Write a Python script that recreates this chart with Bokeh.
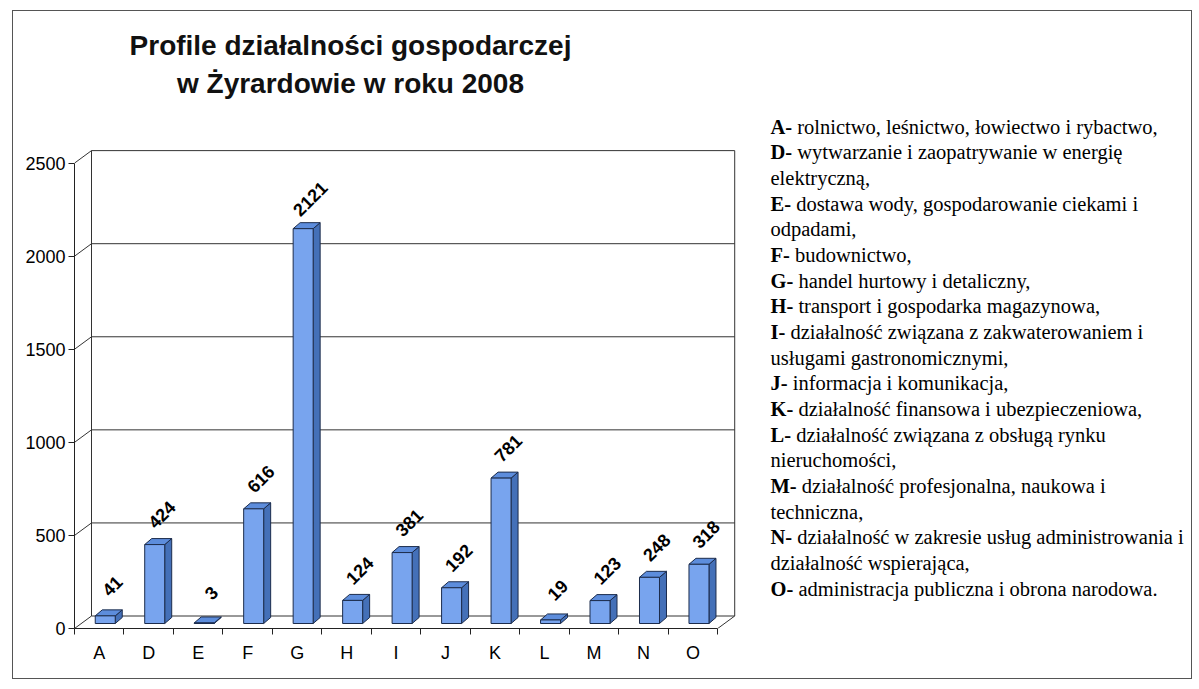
import numpy as np
from bokeh.plotting import figure
from bokeh.models import Range1d, FixedTicker, ColumnDataSource
from bokeh.core.properties import value
from bokeh.embed import file_html
from bokeh.resources import INLINE

# ---- data ----
categories = ["A", "D", "E", "F", "G", "H", "I", "J", "K", "L", "M", "N", "O"]
counts = [41, 424, 3, 616, 2121, 124, 381, 192, 781, 19, 123, 248, 318]
y_ticks = [0, 500, 1000, 1500, 2000, 2500]
title_lines = ["Profile działalności gospodarczej", "w Żyrardowie w roku 2008"]
legend_keys = ["A", "D", "", "E", "", "F", "G", "H", "I", "", "J", "K", "L", "",
               "M", "", "N", "", "O"]
legend_texts = [
    "rolnictwo, leśnictwo, łowiectwo i rybactwo,",
    "wytwarzanie i zaopatrywanie w energię",
    "elektryczną,",
    "dostawa wody, gospodarowanie ciekami i",
    "odpadami,",
    "budownictwo,",
    "handel hurtowy i detaliczny,",
    "transport i gospodarka magazynowa,",
    "działalność związana z zakwaterowaniem i",
    "usługami gastronomicznymi,",
    "informacja i komunikacja,",
    "działalność finansowa i ubezpieczeniowa,",
    "działalność związana z obsługą rynku",
    "nieruchomości,",
    "działalność profesjonalna, naukowa i",
    "techniczna,",
    "działalność w zakresie usług administrowania i",
    "działalność wspierająca,",
    "administracja publiczna i obrona narodowa.",
]

# ---- layout geometry ----
W, H = 1180, 669                # canvas size; canvas origin at page (13, 11)
FRAME_L, FRAME_B = 61, 52
PAGE_X0, PAGE_Y0 = 13, 11
xs = 663 / 13.4                 # px per category unit
ys = 484 / 2600                 # px per value unit
X_END = (W - FRAME_L) / xs
Y_END = (H - FRAME_B) / ys
ORIG_X = PAGE_X0 + FRAME_L      # page x of axis origin
ORIG_Y = PAGE_Y0 + H - FRAME_B  # page y of axis origin


def xd(page_x):
    return (page_x - ORIG_X) / xs


def yd(page_y):
    return (ORIG_Y - page_y) / ys


p = figure(width=W, height=H, output_backend="svg", toolbar_location=None,
           x_range=Range1d(0, X_END), y_range=Range1d(0, Y_END),
           min_border_left=FRAME_L, min_border_right=0,
           min_border_top=0, min_border_bottom=FRAME_B)
p.styles = {"border": "1px solid #555", "margin": "10px 0 0 12px"}
p.outline_line_color = None
p.xgrid.visible = False
p.ygrid.visible = False
p.background_fill_color = "white"
p.border_fill_color = "white"

n = len(categories)
centers = [i + 0.5 for i in range(n)]

# x axis
xa = p.xaxis[0]
xa.ticker = FixedTicker(ticks=centers, minor_ticks=list(range(n + 1)))
xa.major_label_overrides = {c: cat for c, cat in zip(centers, categories)}
xa.major_tick_line_color = None
xa.major_tick_out = 6
xa.major_tick_in = 0
xa.minor_tick_line_color = "#222222"
xa.minor_tick_out = 6
xa.minor_tick_in = 0
xa.major_label_standoff = 8
xa.major_label_text_font = "Liberation Sans"
xa.major_label_text_font_size = "18px"
xa.major_label_text_color = "black"
xa.axis_line_color = "#222222"
xa.bounds = (0, n)

# y axis
ya = p.yaxis[0]
ya.ticker = FixedTicker(ticks=y_ticks)
ya.minor_tick_line_color = None
ya.major_tick_out = 6
ya.major_tick_in = 0
ya.major_tick_line_color = "#222222"
ya.major_label_standoff = 3
ya.major_label_text_font = "Liberation Sans"
ya.major_label_text_font_size = "18px"
ya.major_label_text_color = "black"
ya.axis_line_color = "#222222"
ya.bounds = (0, max(y_ticks))

# ---- 3D walls ----
ox = 17 / xs
oy = 12.5 / ys
top = max(y_ticks)
wall_x0, wall_y0, wall_x1, wall_y1 = [], [], [], []
for t in y_ticks:
    wall_x0.append(ox); wall_y0.append(t + oy); wall_x1.append(n + ox); wall_y1.append(t + oy)
    wall_x0.append(0); wall_y0.append(t); wall_x1.append(ox); wall_y1.append(t + oy)
wall_x0 += [ox, n + ox]; wall_y0 += [oy, oy]; wall_x1 += [ox, n + ox]; wall_y1 += [top + oy, top + oy]
wall_x0.append(n); wall_y0.append(0); wall_x1.append(n + ox); wall_y1.append(oy)
p.segment(x0=wall_x0, y0=wall_y0, x1=wall_x1, y1=wall_y1, line_color="#333333", line_width=1)

# ---- 3D bars ----
bl = [c - 4 / xs for c in centers]
br = [c + 16 / xs for c in centers]
bb = 5 / ys
bt = [bb + v for v in counts]
dx = 7 / xs
dy = 6 / ys
edge = "#1c2c4c"

side_xs = [[r, r + dx, r + dx, r] for r in br]
side_ys = [[bb, bb + dy, t + dy, t] for t in bt]
top_xs = [[l, l + dx, r + dx, r] for l, r in zip(bl, br)]
top_ys = [[t, t + dy, t + dy, t] for t in bt]
p.patches(xs=side_xs, ys=side_ys, fill_color="#4470b8", line_color=edge, line_width=1)
p.patches(xs=top_xs, ys=top_ys, fill_color="#5d8ddc", line_color=edge, line_width=1)
p.quad(left=bl, right=br, bottom=[bb] * n, top=bt, fill_color="#78a4ee",
       line_color=edge, line_width=1)

# value labels
src = ColumnDataSource(dict(x=centers, y=bt, label=[str(v) for v in counts]))
p.text(x="x", y="y", text="label", source=src, angle=np.pi / 4,
       text_align="center", text_baseline="middle", x_offset=13, y_offset=-30,
       text_font=value("Liberation Sans"), text_font_style="bold",
       text_font_size="18px", text_color="black")

# ---- title ----
p.text(x=[xd(350)] * 2, y=[yd(45), yd(83)], text=title_lines,
       text_align="center", text_baseline="alphabetic",
       text_font=value("Liberation Sans"), text_font_style="bold",
       text_font_size="28px", text_color="#111111")

# ---- legend text ----
bold_w = {"A": .722, "D": .722, "E": .667, "F": .611, "G": .778, "H": .778,
          "I": .389, "J": .5, "K": .778, "L": .667, "M": .944, "N": .722, "O": .778}
FS = 20.5
kx, ky, kt = [], [], []
tx, ty = [], []
for k, (key, txt) in enumerate(zip(legend_keys, legend_texts)):
    py = 126 + 25.67 * k
    off = 0
    if key:
        kx.append(xd(770)); ky.append(yd(py)); kt.append(key + "-")
        off = (bold_w[key] + .333 + .25) * FS
    tx.append(xd(770 + off)); ty.append(yd(py))
p.text(x=kx, y=ky, text=kt, text_align="left", text_baseline="alphabetic",
       text_font=value("Liberation Serif"), text_font_style="bold",
       text_font_size=f"{FS}px", text_color="black")
p.text(x=tx, y=ty, text=legend_texts, text_align="left", text_baseline="alphabetic",
       text_font=value("Liberation Serif"), text_font_size=f"{FS}px", text_color="black")

open("out.html", "w").write(file_html(p, INLINE))
